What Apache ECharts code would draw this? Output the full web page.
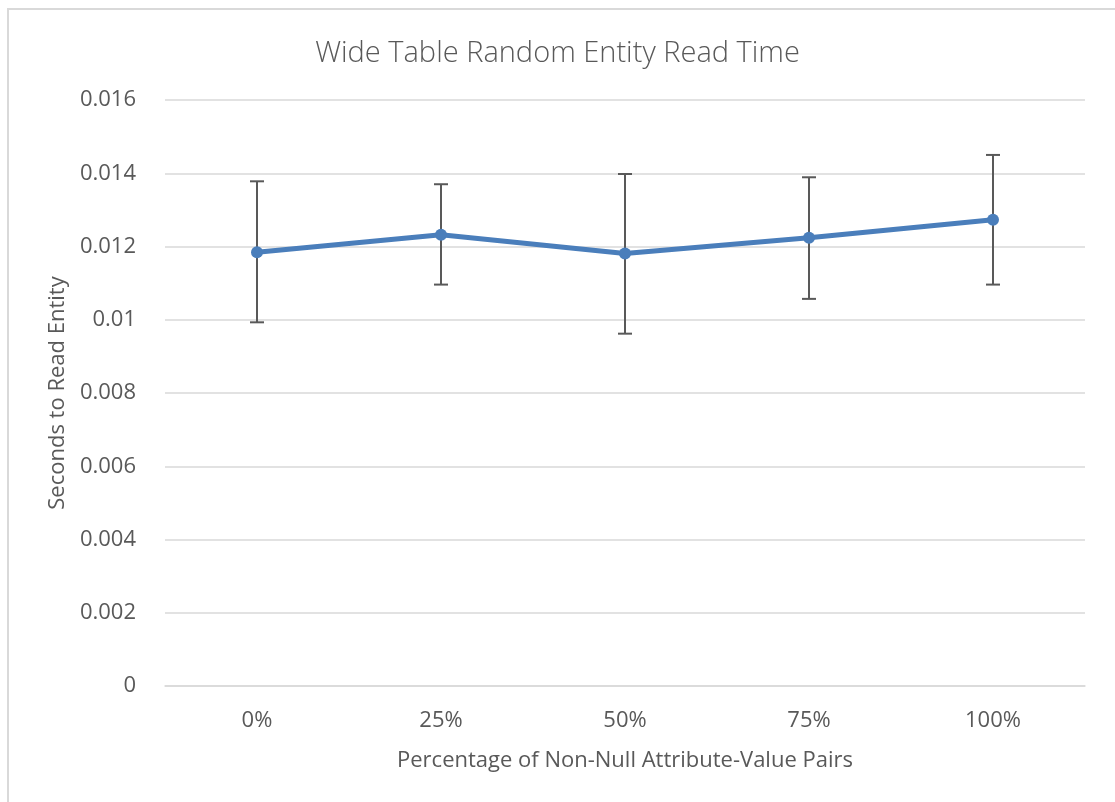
<!DOCTYPE html>
<html>
<head>
<meta charset="utf-8">
<script src="https://cdn.jsdelivr.net/npm/echarts@6/dist/echarts.min.js"></script>
<style>
  html, body { margin: 0; padding: 0; background: #fff; }
  #frame { position: absolute; left: 7px; top: 8px; width: 1120px; height: 810px; border-left: 2px solid #d9d9d9; border-top: 2px solid #d9d9d9; }
  #chart { position: absolute; left: 0; top: 0; width: 1115px; height: 802px; }
</style>
</head>
<body>
<div id="frame"></div>
<div id="chart"></div>
<script>
var categories = ['0%', '25%', '50%', '75%', '100%']
var meanValues = [0.01184, 0.01232, 0.01181, 0.01224, 0.01273]
var upperValues = [0.01378, 0.0137, 0.01398, 0.01389, 0.0145]
var lowerValues = [0.00993, 0.01096, 0.00962, 0.01057, 0.01096]

var textColor = '#595959'
var fontFamily = 'Open Sans, sans-serif'

var errorData = categories.map(function(c, i) {
  return [i, lowerValues[i], upperValues[i]]
})

var chart = echarts.init(document.getElementById('chart'))
chart.setOption({
  animation: false,
  title: {
    text: 'Wide Table Random Entity Read Time',
    left: 'center',
    top: 34,
    textStyle: {
      fontFamily: fontFamily,
      fontSize: 29,
      fontWeight: 300,
      color: textColor
    }
  },
  grid: {
    left: 165,
    right: 30,
    top: 100,
    bottom: 116
  },
  xAxis: {
    type: 'category',
    data: categories,
    boundaryGap: true,
    axisLine: { show: true, lineStyle: { color: '#d9d9d9', width: 1.5 } },
    axisTick: { show: false },
    axisLabel: {
      margin: 24,
      fontFamily: fontFamily,
      fontSize: 22,
      color: textColor
    },
    name: 'Percentage of Non-Null Attribute-Value Pairs',
    nameLocation: 'middle',
    nameGap: 64,
    nameTextStyle: {
      fontFamily: fontFamily,
      fontSize: 22,
      color: textColor
    }
  },
  yAxis: {
    type: 'value',
    min: 0,
    max: 0.016,
    interval: 0.002,
    axisLine: { show: false },
    axisTick: { show: false },
    splitLine: { lineStyle: { color: '#d9d9d9', width: 1.5 } },
    axisLabel: {
      margin: 29,
      fontFamily: fontFamily,
      fontSize: 22,
      color: textColor,
      formatter: function(v) {
        return String(parseFloat(v.toFixed(3)))
      }
    },
    name: 'Seconds to Read Entity',
    nameLocation: 'middle',
    nameRotate: 90,
    nameGap: 96,
    nameTextStyle: {
      fontFamily: fontFamily,
      fontSize: 22,
      color: textColor
    }
  },
  series: [
    {
      type: 'custom',
      data: errorData,
      z: 1,
      renderItem: function(params, api) {
        var x = api.value(0)
        var lo = api.coord([x, api.value(1)])
        var hi = api.coord([x, api.value(2)])
        var half = 7
        var style = { stroke: '#595959', lineWidth: 2 }
        return {
          type: 'group',
          children: [
            { type: 'line', shape: { x1: lo[0], y1: lo[1], x2: hi[0], y2: hi[1] }, style: style },
            { type: 'line', shape: { x1: hi[0] - half, y1: hi[1], x2: hi[0] + half, y2: hi[1] }, style: style },
            { type: 'line', shape: { x1: lo[0] - half, y1: lo[1], x2: lo[0] + half, y2: lo[1] }, style: style }
          ]
        }
      }
    },
    {
      type: 'line',
      data: meanValues,
      z: 3,
      symbol: 'circle',
      symbolSize: 12,
      itemStyle: { color: '#4a7ebb' },
      lineStyle: { color: '#4a7ebb', width: 5 }
    }
  ]
})
</script>
</body>
</html>
